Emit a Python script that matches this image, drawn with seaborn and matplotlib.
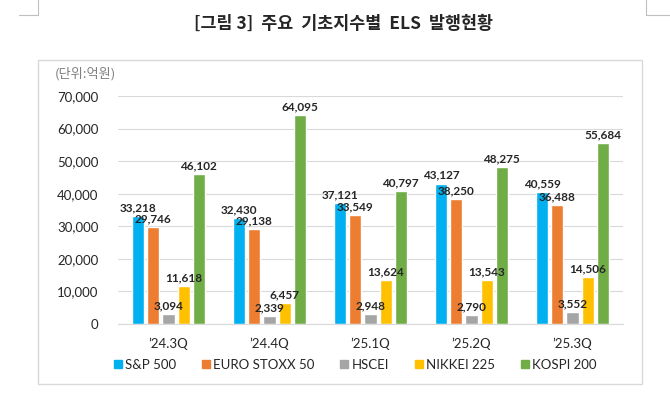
import numpy as np
import pandas as pd
import seaborn as sns
import matplotlib.pyplot as plt
from matplotlib.lines import Line2D
from matplotlib.patches import Rectangle
from matplotlib.ticker import FuncFormatter

# data (unit: 100 million KRW)
quarters = ["\u201924.3Q", "\u201924.4Q", "\u201925.1Q", "\u201925.2Q", "\u201925.3Q"]
indices = ["S&P 500", "EURO STOXX 50", "HSCEI", "NIKKEI 225", "KOSPI 200"]
sp500 = [33218, 32430, 37121, 43127, 40559]
eurostoxx = [29746, 29138, 33549, 38250, 36488]
hscei = [3094, 2339, 2948, 2790, 3552]
nikkei = [11618, 6457, 13624, 13543, 14506]
kospi = [46102, 64095, 40797, 48275, 55684]
colors = ["#00B0F0", "#ED7D31", "#A5A5A5", "#FFC000", "#70AD47"]

series = [sp500, eurostoxx, hscei, nikkei, kospi]
rows = []
for name, vals in zip(indices, series):
    for q, v in zip(quarters, vals):
        rows.append({"quarter": q, "index": name, "value": v})
df = pd.DataFrame(rows)

sns.set_style("white")
plt.rcParams['font.family'] = ['Lato', 'Noto Sans CJK KR', 'DejaVu Sans']

fig = plt.figure(figsize=(6.7, 3.96), dpi=100)
ax = fig.add_axes([0.1761, 0.1818, 0.7537, 0.5758])

sns.barplot(data=df, x="quarter", y="value", hue="index", order=quarters,
            hue_order=indices, palette=colors, width=0.75, gap=0.2,
            errorbar=None, ax=ax, saturation=1)

for cont in ax.containers:
    ax.bar_label(cont, labels=[f"{v:,.0f}" for v in cont.datavalues],
                 padding=2, fontsize=8.5, fontweight="bold", color="#262626")

ax.set_ylim(0, 70000)
ax.set_yticks(range(0, 70001, 10000))
ax.yaxis.set_major_formatter(FuncFormatter(lambda v, p: f"{v:,.0f}"))
ax.grid(axis="y", color="#D9D9D9", linewidth=0.8)
ax.set_axisbelow(True)
for s in ["top", "right", "left"]:
    ax.spines[s].set_visible(False)
ax.spines["bottom"].set_color("#D9D9D9")
ax.tick_params(length=0, labelsize=9.5, colors="#262626")
ax.tick_params(axis="y", pad=14)
ax.tick_params(axis="x", pad=10)
ax.set_xlabel("")
ax.set_ylabel("")

ax.get_legend().remove()
handles = [Line2D([], [], marker="s", linestyle="", markersize=5.5,
                  markerfacecolor=c, markeredgecolor=c) for c in colors]
fig.legend(handles, indices, loc="center", bbox_to_anchor=(0.528, 0.078),
           ncol=5, frameon=False, fontsize=9.5, handletextpad=0.05,
           columnspacing=1.75, handlelength=1.0, labelcolor="#262626")

# title, unit, chart frame
fig.text(0.512, 1 - 24 / 396, "[그림 3]  주요  기초지수별  ELS  발행현황",
         ha="center", va="center", fontsize=12.5, fontweight="bold",
         family=["Noto Sans CJK KR", "DejaVu Sans"])
fig.text(55 / 670, 1 - 74 / 396, "(단위:억원)", ha="left", va="center",
         fontsize=9.5, color="#7F7F7F", family=["Noto Sans CJK KR", "DejaVu Sans"])
fig.patches.append(Rectangle((38 / 670, 1 - 384 / 396), 604 / 670, 324 / 396,
                             transform=fig.transFigure, fill=False,
                             edgecolor="#D9D9D9", linewidth=1))

# page corner marks
for xs, ys in [([19, 38, 38], [15, 15, 0]), ([670, 646, 646], [15, 15, 0])]:
    fig.add_artist(Line2D([x / 670 for x in xs], [1 - y / 396 for y in ys],
                          transform=fig.transFigure, color="#BFBFBF", linewidth=0.8))

fig.savefig("out.png", dpi=100)
